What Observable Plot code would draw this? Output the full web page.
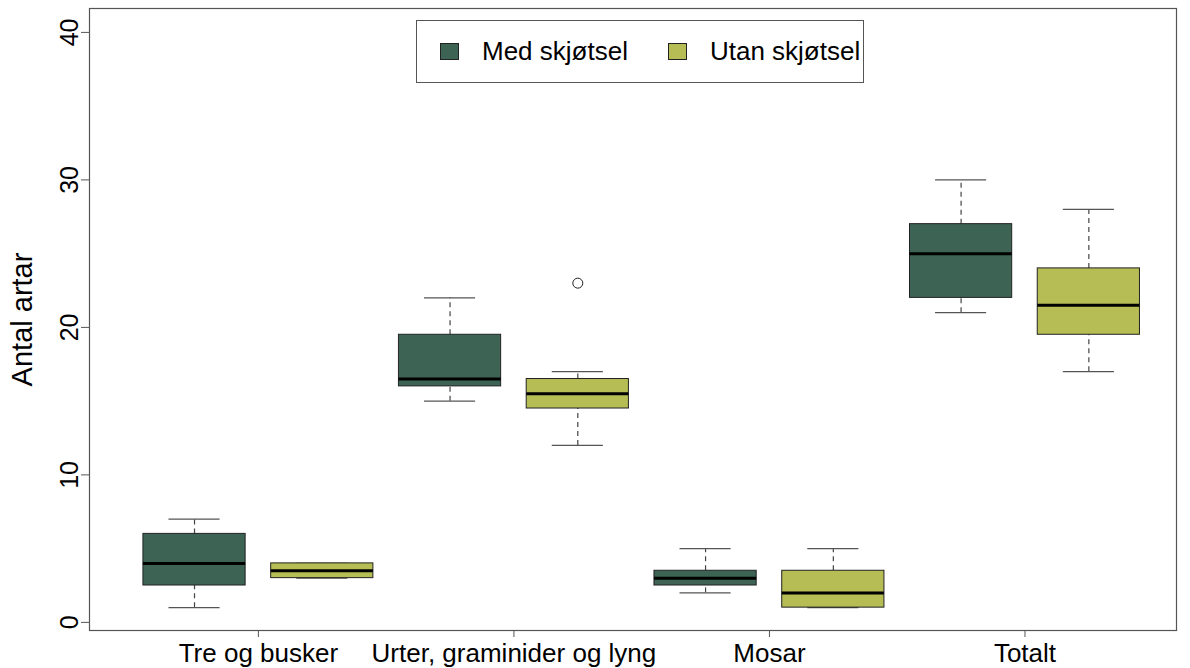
<!DOCTYPE html>
<html>
<head>
<meta charset="utf-8">
<script src="https://cdn.jsdelivr.net/npm/d3@7"></script>
<script src="https://cdn.jsdelivr.net/npm/@observablehq/plot@0.6"></script>
<style>
  html, body { margin: 0; padding: 0; background: #fff; }
  #wrap { position: relative; width: 1190px; height: 668px; font-family: "Liberation Sans", Arial, sans-serif; }
  #legend { position: absolute; left: 416px; top: 20px; width: 448px; height: 63px; border: 1px solid #555; box-sizing: border-box;
            display: flex; align-items: center; font-size: 26px; color: #000; background: #fff; }
  .sw { display: inline-block; width: 19px; height: 17px; border: 1px solid #222; box-sizing: border-box; }
</style>
</head>
<body>
<div id="wrap"></div>
<script>
const categories = ["Tre og busker", "Urter, graminider og lyng", "Mosar", "Totalt"];
const groups = ["Med skjøtsel", "Utan skjøtsel"];
const colors = ["#3D6354", "#B6BD55"];
const yTicks = [0, 10, 20, 30, 40];
const yTitle = "Antal artar";
// per category: [Med, Utan]
const whiskerLow  = [[1, 3],   [15, 12],  [2, 1],   [21, 17]];
const quart1      = [[2.5, 3], [16, 14.5],[2.5, 1], [22, 19.5]];
const medians     = [[4, 3.5], [16.5, 15.5],[3, 2], [25, 21.5]];
const quart3      = [[6, 4],   [19.5, 16.5],[3.5, 3.5],[27, 24]];
const whiskerHigh = [[7, 4],   [22, 17],  [5, 5],   [30, 28]];
const outliers    = [[[], []], [[], [23]], [[], []], [[], []]];

const rows = categories.flatMap((c, i) => groups.map((g, j) => ({
  cat: c, group: g, x: i + (j === 0 ? -0.25 : 0.25),
  lo: whiskerLow[i][j], q1: quart1[i][j], med: medians[i][j], q3: quart3[i][j], hi: whiskerHigh[i][j]
})));
const outRows = categories.flatMap((c, i) => groups.flatMap((g, j) =>
  outliers[i][j].map(v => ({x: i + (j === 0 ? -0.25 : 0.25), v}))));

const bw = 0.2, cw = 0.1;
const chart = Plot.plot({
  width: 1190, height: 668,
  marginLeft: 89, marginRight: 14, marginTop: 8, marginBottom: 38,
  style: {fontFamily: "Liberation Sans, Arial, sans-serif", fontSize: "25px", color: "#000", background: "#fff"},
  x: {type: "linear", domain: [-0.661, 3.593]},
  y: {domain: [-0.55, 41.62]},
  color: {domain: groups, range: colors},
  marks: [
    Plot.frame({stroke: "#555", strokeWidth: 1.2}),
    Plot.axisX({ticks: [0, 1, 2, 3], tickFormat: i => categories[i], tickSize: 7, tickPadding: 6, fontSize: 26, label: null, stroke: "#555"}),
    Plot.axisY({ticks: yTicks, tickSize: 8, tickRotate: -90, tickPadding: 4, fontSize: 25, label: null, stroke: "#555"}),
    Plot.text([yTitle], {text: d => d, frameAnchor: "left", textAnchor: "middle", dx: -67, rotate: -90, fontSize: 29, fill: "#000"}),
    Plot.ruleX(rows, {x: "x", y1: "q3", y2: "hi", stroke: "#444", strokeDasharray: "5,4", strokeWidth: 1.2}),
    Plot.ruleX(rows, {x: "x", y1: "lo", y2: "q1", stroke: "#444", strokeDasharray: "5,4", strokeWidth: 1.2}),
    Plot.ruleY(rows, {y: "hi", x1: d => d.x - cw, x2: d => d.x + cw, stroke: "#555", strokeWidth: 1.3}),
    Plot.ruleY(rows, {y: "lo", x1: d => d.x - cw, x2: d => d.x + cw, stroke: "#555", strokeWidth: 1.3}),
    Plot.rect(rows, {x1: d => d.x - bw, x2: d => d.x + bw, y1: "q1", y2: "q3", fill: "group", stroke: "#222", strokeWidth: 1}),
    Plot.ruleY(rows, {y: "med", x1: d => d.x - bw, x2: d => d.x + bw, stroke: "#000", strokeWidth: 3}),
    Plot.dot(outRows, {x: "x", y: "v", r: 5, stroke: "#222", fill: "#fff", strokeWidth: 1})
  ]
});
const wrap = document.getElementById("wrap");
wrap.appendChild(chart);
const leg = document.createElement("div");
leg.id = "legend";
leg.innerHTML = groups.map((g, j) =>
  `<span class="sw" style="background:${colors[j]};margin-left:${j === 0 ? 23 : 40}px"></span><span style="margin-left:23px">${g}</span>`).join("");
wrap.appendChild(leg);
</script>
</body>
</html>
